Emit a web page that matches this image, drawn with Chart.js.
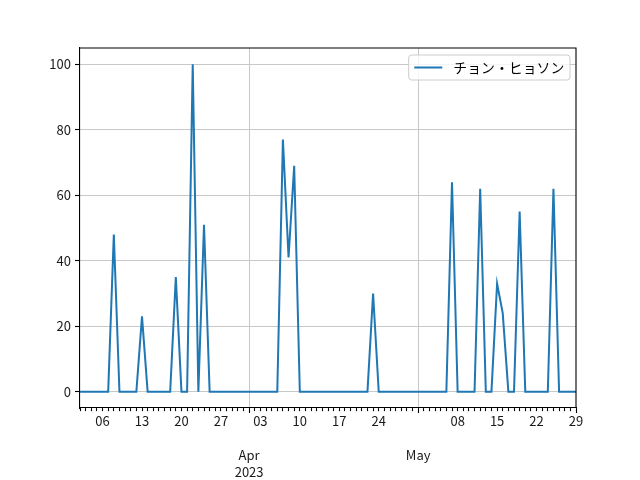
<!DOCTYPE html>
<html lang="ja">
<head>
    <meta charset="UTF-8">
    <title>チョン・ヒョソン</title>
    <script src="https://cdn.jsdelivr.net/npm/chart.js@4.4.1/dist/chart.umd.min.js"></script>
    <style>
        body { margin: 0; background: #fff; }
        #chart { display: block; }
    </style>
</head>
<body>
    <canvas id="chart" width="640" height="480"></canvas>
    <script>
        // one value per day, first day = 2023-03-02 (index 0), last = 2023-05-29 (index 88)
        var seriesLabel = 'チョン・ヒョソン';
        var values = [
            0, 0, 0, 0, 0, 0, 48,      // Mar 02 - Mar 08
            0, 0, 0, 0, 23, 0, 0,      // Mar 09 - Mar 15
            0, 0, 0, 35, 0, 0, 100,    // Mar 16 - Mar 22
            0, 51, 0, 0, 0, 0, 0,      // Mar 23 - Mar 29
            0, 0, 0, 0, 0, 0, 0,       // Mar 30 - Apr 05
            0, 77, 41, 69, 0, 0, 0,    // Apr 06 - Apr 12
            0, 0, 0, 0, 0, 0, 0,       // Apr 13 - Apr 19
            0, 0, 0, 30, 0, 0, 0,      // Apr 20 - Apr 26
            0, 0, 0, 0, 0, 0, 0,       // Apr 27 - May 03
            0, 0, 0, 64, 0, 0, 0,      // May 04 - May 10
            0, 62, 0, 0, 33, 24, 0,    // May 11 - May 17
            0, 55, 0, 0, 0, 0, 0,      // May 18 - May 24
            62, 0, 0, 0, 0             // May 25 - May 29
        ];

        // day ticks (mondays) and month ticks, as day index
        var weekTicks = [4, 11, 18, 25, 32, 39, 46, 53, 67, 74, 81, 88];
        var weekLabels = ['06', '13', '20', '27', '03', '10', '17', '24', '08', '15', '22', '29'];
        var monthTicks = [30, 60];
        var monthLabels = [['Apr', '2023'], ['May']];
        var yTicks = [0, 20, 40, 60, 80, 100];

        var FONT = '"Noto Sans CJK JP", "Noto Sans", sans-serif';

        var points = [];
        for (var i = 0; i < values.length; i++) {
            points.push({x: i, y: values[i]});
        }
        var dayTicks = [];
        for (var d = 0; d < values.length; d++) {
            dayTicks.push(d);
        }

        // top / right spines
        var framePlugin = {
            id: 'frame',
            afterDatasetsDraw: function(chart) {
                var a = chart.chartArea, ctx = chart.ctx;
                ctx.save();
                ctx.strokeStyle = '#000';
                ctx.lineWidth = 1.1;
                ctx.beginPath();
                ctx.moveTo(a.left, a.top);
                ctx.lineTo(a.right, a.top);
                ctx.lineTo(a.right, a.bottom);
                ctx.stroke();
                ctx.restore();
            }
        };

        // matplotlib style legend box in the upper right corner
        var legendPlugin = {
            id: 'boxLegend',
            afterDatasetsDraw: function(chart) {
                var a = chart.chartArea, ctx = chart.ctx;
                var ds = chart.data.datasets[0];
                ctx.save();
                ctx.font = '13.9px ' + FONT;
                var tw = ctx.measureText(ds.label).width;
                var w = 5.6 + 28 + 11 + tw + 5.6;
                var h = 25;
                var x = a.right - 6 - w;
                var y = a.top + 7;
                ctx.beginPath();
                ctx.roundRect(x, y, w, h, 3);
                ctx.fillStyle = 'rgba(255,255,255,0.8)';
                ctx.fill();
                ctx.strokeStyle = '#cccccc';
                ctx.lineWidth = 1;
                ctx.stroke();
                ctx.beginPath();
                ctx.moveTo(x + 5.6, y + h / 2);
                ctx.lineTo(x + 5.6 + 28, y + h / 2);
                ctx.strokeStyle = ds.borderColor;
                ctx.lineWidth = 2;
                ctx.stroke();
                ctx.fillStyle = '#000';
                ctx.textBaseline = 'middle';
                ctx.fillText(ds.label, x + 5.6 + 28 + 11, y + h / 2 + 0.5);
                ctx.restore();
            }
        };

        var config = {
            type: 'line',
            data: {
                datasets: [{
                    label: seriesLabel,
                    data: points,
                    borderColor: '#1f77b4',
                    backgroundColor: '#1f77b4',
                    borderWidth: 2,
                    pointRadius: 0,
                    tension: 0,
                    fill: false
                }]
            },
            options: {
                responsive: false,
                animation: false,
                devicePixelRatio: 1,
                layout: { padding: { left: 0, top: 48, right: 64, bottom: 0 } },
                plugins: {
                    legend: { display: false },
                    tooltip: { enabled: false }
                },
                scales: {
                    x: {
                        type: 'linear',
                        min: 0,
                        max: 88,
                        afterBuildTicks: function(axis) {
                            axis.ticks = dayTicks.map(function(v) { return {value: v}; });
                        },
                        afterFit: function(axis) { axis.height = 72; },
                        ticks: {
                            autoSkip: false,
                            maxRotation: 0,
                            padding: 0,
                            color: '#1a1a1a',
                            font: { family: FONT, size: 13, lineHeight: 17 / 13 },
                            callback: function(value) {
                                var m = monthTicks.indexOf(value);
                                if (m != -1) return ['', ''].concat(monthLabels[m]);
                                var w = weekTicks.indexOf(value);
                                if (w != -1) return weekLabels[w];
                                return '';
                            }
                        },
                        grid: {
                            color: function(c) {
                                return (c.tick && monthTicks.indexOf(c.tick.value) != -1) ? '#c8c8c8' : 'rgba(0,0,0,0)';
                            },
                            lineWidth: 1,
                            tickColor: '#000',
                            tickWidth: 1.1,
                            tickLength: 5,
                            tickBorderDash: function(c) {
                                var v = c.tick ? c.tick.value : -1;
                                return (monthTicks.indexOf(v) != -1 || v == 88) ? [] : [3, 20];
                            }
                        },
                        border: { color: '#000', width: 1.1 }
                    },
                    y: {
                        min: -5,
                        max: 105,
                        afterBuildTicks: function(axis) {
                            axis.ticks = yTicks.map(function(v) { return {value: v}; });
                        },
                        afterFit: function(axis) { axis.width = 80; },
                        ticks: {
                            padding: 4,
                            color: '#1a1a1a',
                            font: { family: FONT, size: 13 }
                        },
                        grid: {
                            color: '#c8c8c8',
                            lineWidth: 1,
                            tickColor: '#000',
                            tickWidth: 1.1,
                            tickLength: 5
                        },
                        border: { color: '#000', width: 1.1 }
                    }
                }
            },
            plugins: [framePlugin, legendPlugin]
        };

        var ctx = document.getElementById('chart').getContext('2d');
        window.myLine = new Chart(ctx, config);
    </script>
</body>
</html>
